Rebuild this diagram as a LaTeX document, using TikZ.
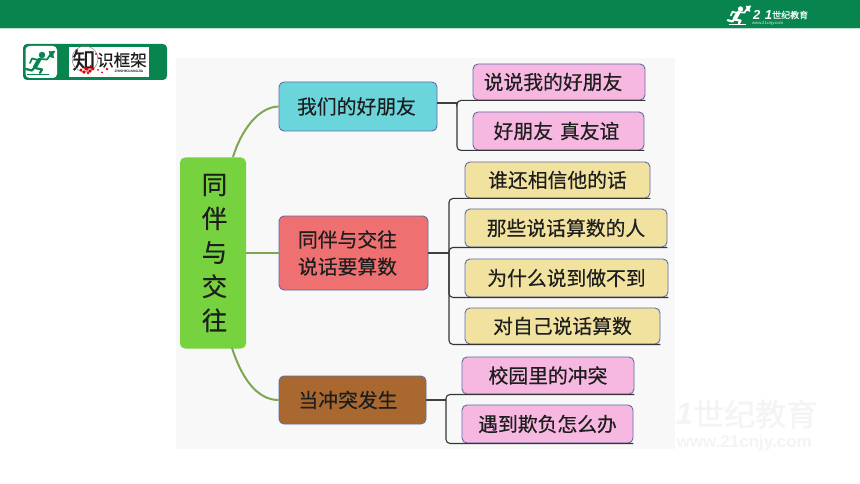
\documentclass[tikz,border=0pt]{standalone}
\usepackage{fontspec}
\setmainfont{Liberation Sans}
\newfontfamily\cjk[FakeBold=0.35]{Noto Sans CJK SC}
\newfontfamily\cjkheavy[FakeBold=1.1]{Noto Sans CJK SC}
\definecolor{barg}{HTML}{08854F}
\definecolor{barl}{HTML}{BFE0D2}
\definecolor{panel}{HTML}{F8F8F9}
\definecolor{rootg}{HTML}{76D23F}
\definecolor{cyanb}{HTML}{6AD6DC}
\definecolor{redb}{HTML}{EE7070}
\definecolor{brownb}{HTML}{A9682F}
\definecolor{pinkb}{HTML}{F6B8E0}
\definecolor{yelb}{HTML}{F2E2A0}
\definecolor{edgeb}{HTML}{5F6CA8}
\definecolor{curveg}{HTML}{7FA650}
\definecolor{ink}{HTML}{1E1E1E}
\definecolor{wm}{HTML}{F4F4F4}
\tikzset{
  x=1pt,y=-1pt,
  mapbox/.style={draw=edgeb,line width=0.9pt,rounded corners=5pt,inner sep=0pt,align=center,text=ink,font=\cjk\fontsize{19.8}{24}\selectfont},
  topic/.style={mapbox,font=\cjk\fontsize{19.8}{27}\selectfont},
  pinkleaf/.style={mapbox,fill=pinkb},
  yelleaf/.style={mapbox,fill=yelb},
  trunk/.style={draw=curveg,line width=2pt},
  stem/.style={draw=ink!85,line width=1.1pt},
  brack/.style={draw=ink!90,line width=1.1pt,rounded corners=4pt},
  runner/.pic={
    \fill[pic actions] (0,0) circle (3);
    \draw[pic actions,fill=none,line width=4pt,line cap=round] (-3,5) -- (-7,12);
    \draw[pic actions,fill=none,line width=1.7pt,line cap=round,line join=round] (-2,4) -- (5,4.5) -- (8,0);
    \draw[pic actions,fill=none,line width=1.7pt,line cap=round,line join=round] (-4,5) -- (-10,3.5) -- (-12,8);
    \draw[pic actions,fill=none,line width=2.2pt,line cap=round,line join=round] (-7,13) -- (0,14.5) -- (-2,18);
    \draw[pic actions,fill=none,line width=2.2pt,line cap=round,line join=round] (-8,13) -- (-10,15.5) -- (-16,14);
    \fill[pic actions] (7,-3.5) -- (13,-4) -- (11,0) -- (12,3) -- (8.5,2) -- cycle;
    \draw[pic actions,fill=none,line width=0.8pt] (-15,19.5) -- (7,19.5);
  }
}
\begin{document}
\begin{tikzpicture}
\useasboundingbox (0,0) rectangle (860,484);
\fill[white] (0,0) rectangle (860,484);
% top bar
\fill[barl] (0,27) rectangle (860,29);
\fill[barg] (0,0) rectangle (860,27.8);
\pic[draw=white,fill=white,scale=0.8] at (740.5,9) {runner};
\node[anchor=west,inner sep=0pt,text=white,font=\bfseries\itshape\fontsize{13}{13}\selectfont] (t21) at (753,14.5) {2\,\,1};
\node[anchor=west,inner sep=0pt,text=white,font=\cjk\fontsize{9}{9}\selectfont] (tname) at (772,15) {世纪教育};
\node[anchor=west,inner sep=0pt,text=white!85!barg,font=\fontsize{4.2}{4.2}\selectfont] (turl) at (752,23) {www.21cnjy.com};
% watermark
\node[anchor=east,inner sep=0pt,text=wm,font=\bfseries\itshape\fontsize{31}{31}\selectfont] (wmnum) at (693,414) {21};
\node[anchor=west,inner sep=0pt,text=wm,font=\cjkheavy\fontsize{31}{31}\selectfont] (wmname) at (693,414) {世纪教育};
\node[anchor=east,inner sep=0pt,text=wm,font=\bfseries\fontsize{17}{17}\selectfont] (wmurl) at (812,443) {www.21cnjy.com};
% section badge
\fill[barg,rounded corners=4pt] (23,44) rectangle (167,80);
\fill[white,rounded corners=4pt] (25.5,46) rectangle (57,78);
\pic[draw=barg,fill=barg] at (42,55) {runner};
\fill[white] (69,47) rectangle (149,77);
\node[inner sep=0pt,text=ink,font=\cjkheavy\fontsize{23}{23}\selectfont] (lzhi) at (84,60) {知};
\node[inner sep=0pt,text=ink,font=\cjk\fontsize{16.5}{17}\selectfont] (lrest) at (122,60) {识框架};
\node[inner sep=0pt,text=ink,font=\bfseries\fontsize{3.4}{4}\selectfont] (lpin) at (129,71) {ZHISHIKUANGJIA};
\draw[gray,line width=0.5pt] (85,59) circle (13);
\foreach \px/\py/\pr in {81/70/1.6,84/72/1.8,87/69/1.8,90/71/1.8,93/69/1.6,91/66/1.4,85/68/1.4,88/73/1.4,98/70/1,102/72.5/1,107/69/1.4,96/54/1.2}
  \fill[red!90!black] (\px,\py) circle (\pr);
% panel
\fill[panel] (176,58) rectangle (675,449);
% nodes
\node[mapbox,draw=none,fill=rootg,minimum width=66pt,minimum height=191pt,font=\cjk\fontsize{25.5}{34}\selectfont] (root) at (213,253) {\hspace*{3pt}同\\\hspace*{3pt}伴\\\hspace*{3pt}与\\\hspace*{3pt}交\\\hspace*{3pt}往};
\node[topic,fill=cyanb,minimum width=158pt,minimum height=49pt] (A) at (358,106.5) {我们的好朋友\hspace{3pt}};
\node[topic,fill=redb,minimum width=149pt,minimum height=74pt] (B) at (353.5,253) {同伴与交往\hspace*{12pt}\\说话要算数\hspace*{12pt}};
\node[topic,fill=brownb,minimum width=147pt,minimum height=48pt] (C) at (352.5,400) {当冲突发生\hspace{9pt}};
\node[pinkleaf,minimum width=172pt,minimum height=36pt] (a1) at (559,82) {说说我的好朋友\hspace{12pt}};
\node[pinkleaf,minimum width=171pt,minimum height=38pt] (a2) at (558.5,131) {好朋友\hspace{7pt}真友谊\hspace{4pt}};
\node[yelleaf,minimum width=185pt,minimum height=36pt] (b1) at (557.5,180) {谁还相信他的话};
\node[yelleaf,minimum width=202pt,minimum height=38pt] (b2) at (566,228) {那些说话算数的人};
\node[yelleaf,minimum width=203pt,minimum height=38pt] (b3) at (566.5,278) {为什么说到做不到};
\node[yelleaf,minimum width=195pt,minimum height=36pt] (b4) at (562.5,326) {对自己说话算数};
\node[pinkleaf,minimum width=172pt,minimum height=37pt] (c1) at (548,375.5) {校园里的冲突};
\node[pinkleaf,minimum width=171pt,minimum height=38pt] (c2) at (547.5,424) {遇到欺负怎么办};
% trunks
\coordinate (rA) at (233,157);
\coordinate (rC) at (232,348);
\draw[trunk] (rA) .. controls (241,131) and (258,107) .. (A.west);
\draw[trunk] (root.east) -- (B.west);
\draw[trunk] (rC) .. controls (241,376) and (256,400) .. (C.west);
% brackets
\coordinate (ja) at (457,103);
\coordinate (jb) at (449,253);
\coordinate (jc) at (446,400);
\draw[stem] (A.east |- ja) -- (ja);
\draw[stem] (B.east) -- (jb);
\draw[stem] (C.east) -- (jc);
\draw[brack] (a1.south east) -- (a1.south west) -| (ja);
\draw[brack] (a2.south east) -- (a2.south west) -| (ja);
\draw[brack] (b1.south east) -- (b1.south west) -| (jb);
\draw[brack] (b2.south east) -- (b2.south west) -| (jb);
\draw[brack] (b3.south east) -- (b3.south west) -| (jb);
\draw[brack] (b4.south east) -- (b4.south west) -| (jb);
\draw[brack] (c1.south east) -- (c1.south west) -| (jc);
\draw[brack] (c2.south east) -- (c2.south west) -| (jc);
\end{tikzpicture}
\end{document}
